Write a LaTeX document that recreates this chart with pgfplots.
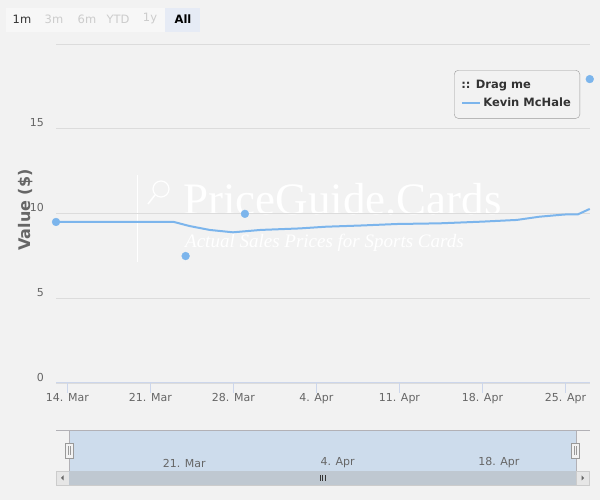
\documentclass[border=0pt]{standalone}
\usepackage{fontspec}
\setmainfont{DejaVu Sans}
\newfontfamily\wmfont{Liberation Serif}
\usepackage{pgfplots}
\pgfplotsset{compat=1.18}
\definecolor{bg}{HTML}{F2F2F2}
\definecolor{series}{HTML}{7CB5EC}
\definecolor{axisline}{HTML}{CCD6EB}
\definecolor{gridc}{HTML}{DCDCDC}
\definecolor{labelc}{HTML}{666666}
\definecolor{navsel}{HTML}{CDDCEC}
\definecolor{thumb}{HTML}{BFC8D1}
\definecolor{outlinec}{HTML}{B2B1B6}
\definecolor{btnbg}{HTML}{F7F7F7}
\definecolor{btnsel}{HTML}{E6EBF5}
\definecolor{btndis}{HTML}{CCCCCC}
\definecolor{dark}{HTML}{333333}
\definecolor{legb}{HTML}{999999}
\definecolor{arrowbg}{HTML}{E6E6E6}
\begin{document}
\begin{tikzpicture}[x=1pt,y=1pt]
\fill[bg] (0,0) rectangle (600,500);
% range selector buttons
\fill[btnbg] (6,468) rectangle (200,492);
\fill[btnsel] (165,468) rectangle (200,492);
\begin{scope}[every node/.style={font=\fontsize{11.5}{13}\selectfont, inner sep=0pt}]
\node[text=dark] at (22,481) {1m};
\node[text=btndis] at (54,481) {3m};
\node[text=btndis] at (87,481) {6m};
\node[text=btndis] at (118,481) {YTD};
\node[text=btndis] at (150,481) {1y};
\node[text=black, font=\bfseries\fontsize{11.5}{13}\selectfont] at (183,481) {All};
\end{scope}
% watermark
\draw[white, line width=1pt] (137,325) -- (137,238);
\draw[white, line width=1.2pt] (161,311) circle (8);
\draw[white, line width=1.5pt] (155,305) -- (148,296);
\node[anchor=base west, font=\wmfont\fontsize{45}{50}\selectfont, text=white, inner sep=0pt] at (183,285) {PriceGuide.Cards};
\node[anchor=base west, font=\wmfont\itshape\fontsize{19}{22}\selectfont, text=white, inner sep=0pt] at (185,252) {Actual Sales Prices for Sports Cards};
% main chart
\begin{axis}[
  at={(56pt,117pt)}, anchor=south west, scale only axis,
  width=534pt, height=339pt,
  xmin=-0.96, xmax=44.07, ymin=0, ymax=20,
  clip=false,
  axis x line*=bottom, axis y line*=left,
  x axis line style={axisline, line width=1pt},
  y axis line style={draw=none},
  xtick={0,7,14,21,28,35,42},
  xticklabels={14. Mar,21. Mar,28. Mar,4. Apr,11. Apr,18. Apr,25. Apr},
  x tick style={axisline, line width=1pt},
  major tick length=10pt, tick align=outside,
  xticklabel style={font=\fontsize{11}{13}\selectfont, text=labelc, anchor=north, inner sep=0pt},
  ytick={0,5,10,15,20}, yticklabels={0,5,10,15,},
  y tick style={draw=none},
  yticklabel style={font=\fontsize{11}{13}\selectfont, text=labelc, anchor=east, inner sep=0pt, xshift=-2pt, yshift=6pt},
  ymajorgrids, grid style={gridc, line width=0.8pt},
  ylabel={Value (\$)},
  ylabel style={font=\bfseries\fontsize{16}{18}\selectfont, text=labelc, at={(axis description cs:-0.056,0.51)}, anchor=center},
  /pgf/number format/assume math mode=true,
  legend style={at={(axis description cs:0.9813,0.923)}, anchor=north east,
    draw=legb, rounded corners=4pt, fill=none,
    font=\bfseries\fontsize{11.5}{14}\selectfont, text=dark,
    inner xsep=7pt, inner ysep=8pt, row sep=4pt},
  legend cell align=left,
]
\addlegendimage{empty legend}
\addlegendentry{\hspace*{-22pt}:: Drag me}
\addplot[series, line width=2pt, mark=none,
  legend image code/.code={\draw[series, line width=2pt] (0pt,0pt) -- (18pt,0pt);}]
coordinates {
(-0.96,9.50) (8.99,9.50) (10.3,9.26) (12.0,9.03) (13.96,8.89) (16.3,9.03)
(19.6,9.12) (21.8,9.22) (24.7,9.29) (27.8,9.38) (31.4,9.42) (35.0,9.52)
(37.9,9.62) (39.8,9.81) (41.9,9.94) (43.05,9.95) (44.05,10.27)
};
\addlegendentry{Kevin McHale}
\addplot[only marks, mark=*, mark size=3.9pt, mark options={draw=series, fill=series}, forget plot]
coordinates {(-0.96,9.50) (9.97,7.49) (14.97,9.98) (44.05,17.93)};
\end{axis}
% navigator
\fill[navsel] (69,29) rectangle (576,69);
\draw[outlinec, line width=1pt] (56,69) -- (590,69);
\draw[outlinec, line width=1pt] (69,69) -- (69,29);
\draw[outlinec, line width=1pt] (576,69) -- (576,29);
\begin{axis}[
  at={(56pt,29pt)}, anchor=south west, scale only axis,
  width=534pt, height=40pt,
  xmin=-2.2, xmax=45.2, ymin=0, ymax=1,
  axis line style={draw=none},
  ytick=\empty,
  xtick={7,21,35}, xticklabels={21. Mar,4. Apr,18. Apr},
  major tick length=0pt, x tick style={draw=none},
  xticklabel style={font=\fontsize{11}{13}\selectfont, text=labelc, anchor=west, inner sep=0pt, xshift=3pt, yshift=8pt},
]
\end{axis}
% handles
\draw[legb, fill=bg] (65,42) rectangle (73,57);
\draw[legb] (68,45) -- (68,54) (70,45) -- (70,54);
\draw[legb, fill=bg] (571,42) rectangle (579,57);
\draw[legb] (574,45) -- (574,54) (576,45) -- (576,54);
% scrollbar
\draw[btndis, fill=arrowbg] (56,15) rectangle (69,29);
\draw[btndis, fill=arrowbg] (576,15) rectangle (589,29);
\fill[thumb] (69,15) rectangle (576,29);
\draw[btndis] (69,15) -- (576,15);
\fill[labelc] (61,22) -- (63.5,24.5) -- (63.5,19.5) -- cycle;
\fill[labelc] (584,22) -- (581.5,24.5) -- (581.5,19.5) -- cycle;
\draw[dark, line width=0.6pt] (320,19) -- (320,25) (322.5,19) -- (322.5,25) (325,19) -- (325,25);
\pgfresetboundingbox
\path[use as bounding box] (0,0) rectangle (600,500);
\end{tikzpicture}
\end{document}
